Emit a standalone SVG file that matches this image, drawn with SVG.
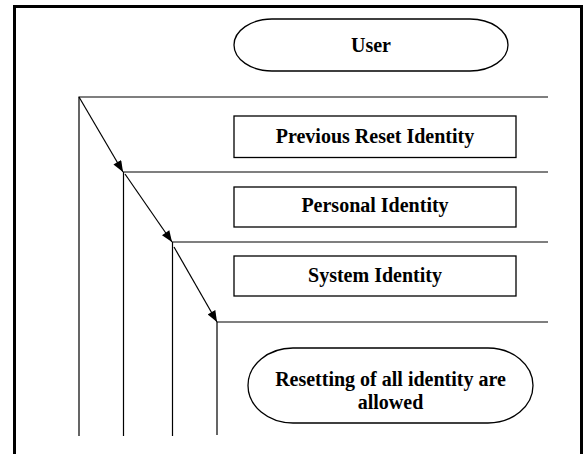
<svg xmlns="http://www.w3.org/2000/svg" width="585" height="454" viewBox="0 0 585 454">
<defs>
<style>
.ln{stroke:#000;stroke-width:1.2;fill:none}
.bx{stroke:#000;stroke-width:1.3;fill:#fff}
.t{font-weight:bold;font-size:20px;fill:#000;text-anchor:middle}
</style>
<marker id="ah" viewBox="0 0 10 8" refX="10" refY="4" markerWidth="12" markerHeight="9" markerUnits="userSpaceOnUse" orient="auto">
<path d="M0,0 L10,4 L0,8 Z" fill="#000"/>
</marker>
</defs>
<rect width="585" height="454" fill="#fff"/>
<g id="frame">
<path d="M14.5,454 V6.5 H581.5 V454" fill="none" stroke="#000" stroke-width="3"/>
</g>
<g font-family="'Liberation Serif', 'Times New Roman', Times, serif">
<g id="user">
<rect class="bx" x="234" y="19" width="274" height="52" rx="38" ry="26"/>
<text class="t" x="371" y="52">User</text>
</g>
<g id="lanes">
<path class="ln" d="M79,436 V97 H548"/>
<path class="ln" d="M123.5,436 V172 H548"/>
<path class="ln" d="M172.5,436 V242 H548"/>
<path class="ln" d="M217,435 V322 H548"/>
</g>
<g id="previous">
<rect class="bx" x="234" y="116" width="282" height="41.5"/>
<text class="t" x="375" y="143">Previous Reset Identity</text>
</g>
<g id="personal">
<rect class="bx" x="234" y="187" width="282" height="40"/>
<text class="t" x="375" y="212">Personal Identity</text>
</g>
<g id="system">
<rect class="bx" x="234" y="256" width="282" height="40"/>
<text class="t" x="375" y="282">System Identity</text>
</g>
<g id="allowed">
<rect class="bx" x="248" y="348" width="285" height="75" rx="45" ry="37.5"/>
<text class="t" x="390.5" y="386">Resetting of all identity are</text>
<text class="t" x="390.5" y="409">allowed</text>
</g>
<g id="connectors">
<line class="ln" x1="79" y1="97" x2="123" y2="172" marker-end="url(#ah)"/>
<line class="ln" x1="125" y1="174" x2="172" y2="242" marker-end="url(#ah)"/>
<line class="ln" x1="174" y1="247" x2="217" y2="322" marker-end="url(#ah)"/>
</g>
</g>
</svg>
